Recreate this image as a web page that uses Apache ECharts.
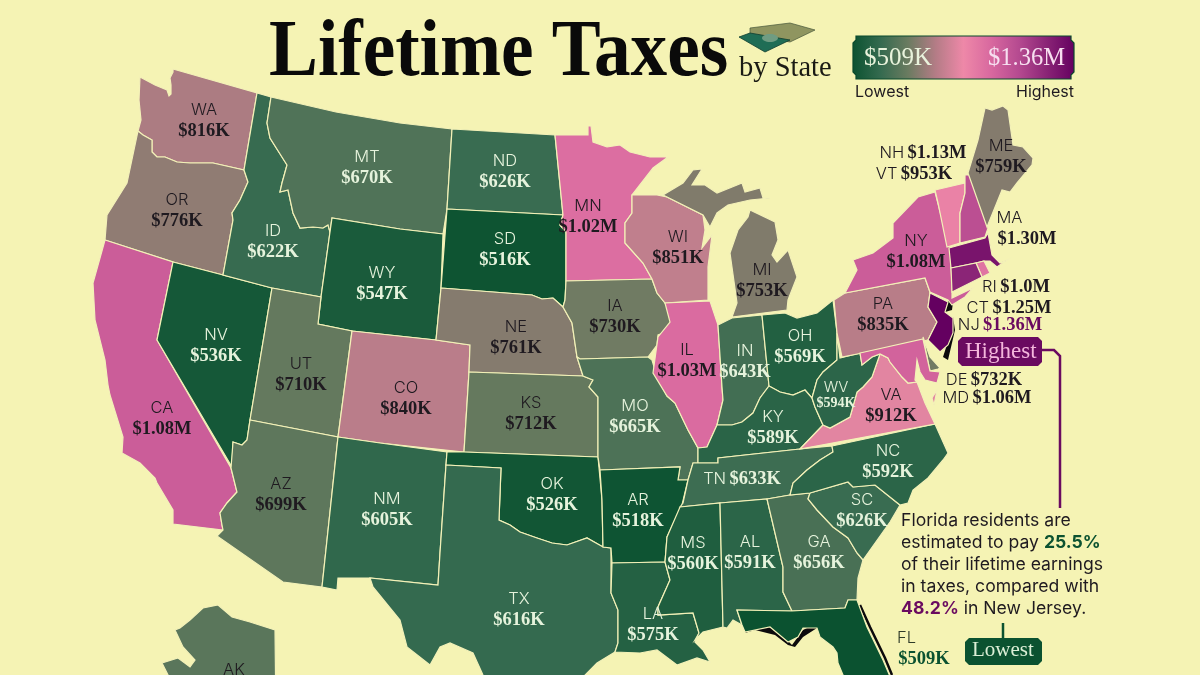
<!DOCTYPE html>
<html lang="en" style="height: 100%">

<head>
  <meta charset="utf-8">
  <script src="https://cdn.jsdelivr.net/npm/echarts@6/dist/echarts.min.js"></script>
</head>

<body style="height: 100%; margin: 0; background: #f5f3b4">
  <div id="container" style="width: 1200px; height: 675px"></div>

  <script type="text/javascript">
    // values, thousands of dollars
    const stateCodes = ['WA', 'OR', 'CA', 'NV', 'ID', 'MT', 'WY', 'UT', 'CO', 'AZ', 'NM', 'ND', 'SD', 'NE', 'KS', 'OK', 'TX', 'MN', 'IA', 'MO', 'AR', 'LA', 'WI', 'IL', 'MI', 'IN', 'OH', 'KY', 'TN', 'MS', 'AL', 'GA', 'FL', 'SC', 'NC', 'VA', 'WV', 'PA', 'NY', 'VT', 'NH', 'ME', 'MA', 'RI', 'CT', 'NJ', 'DE', 'MD', 'AK'];
    const stateValues = [816, 776, 1080, 536, 622, 670, 547, 710, 840, 699, 605, 626, 516, 761, 712, 526, 616, 1020, 730, 665, 518, 575, 851, 1030, 753, 643, 569, 589, 633, 560, 591, 656, 509, 626, 592, 912, 594, 835, 1080, 953, 1130, 759, 1300, 1000, 1250, 1360, 732, 1060, 690];
    const stateTexts = ['$816K', '$776K', '$1.08M', '$536K', '$622K', '$670K', '$547K', '$710K', '$840K', '$699K', '$605K', '$626K', '$516K', '$761K', '$712K', '$526K', '$616K', '$1.02M', '$730K', '$665K', '$518K', '$575K', '$851K', '$1.03M', '$753K', '$643K', '$569K', '$589K', '$633K', '$560K', '$591K', '$656K', '$509K', '$626K', '$592K', '$912K', '$594K', '$835K', '$1.08M', '$953K', '$1.13M', '$759K', '$1.30M', '$1.0M', '$1.25M', '$1.36M', '$732K', '$1.06M', '$690K'];
    const rangeMin = 509;
    const rangeMax = 1360;
    const rangeColors = ['#0b5230', '#346a4f', '#6a7b60', '#b47c86', '#ee88a8', '#d8689f', '#b54a90', '#8a2476', '#640060'];

    // state outlines, traced in map units (same scale as the picture)
    const stateShapes = {
      WA: ['140,77 155,85 167,90 169,96 171,94 171,85 170,78 173,72 173,69 257,93 244,170 213,163 190,163 177,162 165,157 157,157 152,152 152,140 143,135 138,131 141,120 139,100'],
      OR: ['138,131 143,135 152,140 152,152 157,157 165,157 177,162 190,163 213,163 244,170 248,182 240,200 232,213 233,220 223,275 173,262 105,240 107,215 127,183'],
      CA: ['105,240 173,262 157,340 231,468 237,492 227,503 220,513 222,525 223,530 173,524 173,510 157,483 155,478 140,463 122,453 123,437 110,395 108,385 105,360 95,320 93,283 100,258'],
      NV: ['173,262 223,275 272,288 250,420 247,440 242,445 233,442 232,467 157,340'],
      ID: ['223,275 233,220 232,213 240,200 248,182 244,170 257,93 271,97 267,123 270,138 287,165 282,183 280,192 288,190 293,213 300,228 313,227 323,228 328,225 330,232 321,297 272,288'],
      MT: ['271,97 336,112 400,123 452,129 447,209 443,234 400,229 332,218 330,232 328,225 323,228 313,227 300,228 293,213 288,190 280,192 282,183 287,165 270,138 267,123'],
      WY: ['332,218 400,229 443,234 441,288 436,340 352,331 318,324 321,297 330,232'],
      UT: ['272,288 321,297 318,324 352,331 338,437 250,420'],
      CO: ['352,331 436,340 470,345 469,372 464,452 380,443 338,437'],
      AZ: ['250,420 338,437 322,587 283,582 217,536 223,530 222,525 220,513 227,503 237,492 231,468 232,467 233,442 242,445 247,440'],
      NM: ['338,437 380,443 447,452 446,465 440,553 438,585 370,578 338,578 337,590 322,587'],
      ND: ['452,129 555,135 563,215 447,209'],
      SD: ['447,209 563,215 560,225 566,232 566,281 565,300 563,307 553,298 542,299 532,295 441,288'],
      NE: ['441,288 532,295 542,299 553,298 563,307 572,323 577,357 583,376 469,372 470,345 436,340'],
      KS: ['469,372 583,376 593,380 589,387 598,397 598,457 464,452'],
      OK: ['447,452 464,452 598,457 602,500 603,547 587,538 567,545 552,543 537,538 520,532 510,525 499,520 501,468 446,465'],
      TX: ['446,465 501,468 499,520 510,525 520,532 537,538 552,543 567,545 587,538 603,547 611,548 611,593 618,610 618,643 615,652 597,663 585,675 560,720 510,720 483,675 473,653 450,643 440,647 430,665 407,647 400,620 373,587 370,578 438,585 440,553'],
      MN: ['555,135 588,135 588,126 591,126 593,142 607,147 620,145 630,152 650,157 668,157 653,168 632,195 632,213 625,223 625,243 643,263 652,279 566,281 566,232 560,225 563,215'],
      IA: ['566,281 652,279 657,293 665,303 670,313 672,330 658,335 657,345 648,357 580,359 577,357 572,323 563,307 565,300'],
      MO: ['580,359 648,357 652,360 657,377 667,396 675,403 688,430 698,448 698,463 693,463 688,480 678,480 680,467 600,470 598,457 598,397 589,387 593,380 583,376 577,357'],
      AR: ['600,470 680,467 678,480 688,480 682,505 667,537 665,562 612,563 611,548 603,547 602,500'],
      LA: ['612,563 665,562 670,580 658,607 658,615 693,613 699,633 695,642 703,650 710,662 697,658 677,665 657,650 640,653 615,652 618,643 618,610 611,593'],
      WI: ['632,195 657,195 667,197 703,215 705,230 702,248 712,235 708,267 708,300 665,303 657,293 652,279 643,263 625,243 625,223 632,213'],
      IL: ['665,303 710,301 718,325 722,387 723,400 717,425 707,447 698,448 688,430 675,403 667,396 653,373 658,337 670,322'],
      MI: ['663,195 683,183 693,170 702,169 692,185 705,185 717,193 742,183 745,192 760,188 763,198 770,198 750,200 728,205 717,213 710,227 703,215 667,197', '750,210 775,222 778,240 772,255 777,262 788,250 797,277 788,300 787,310 732,317 737,303 730,253 738,230 748,217'],
      IN: ['718,325 732,318 762,315 769,386 760,398 753,413 742,422 732,425 717,425 723,400 722,387'],
      OH: ['762,315 785,313 797,318 817,313 833,300 837,333 837,360 823,372 817,380 812,398 805,390 793,395 780,392 769,386'],
      KY: ['698,463 698,448 707,447 717,425 732,425 742,422 753,413 760,398 769,386 780,392 793,395 805,390 812,398 815,407 823,425 800,449 718,458 718,463'],
      TN: ['693,463 698,463 718,463 718,458 800,449 832,446 833,452 820,460 807,470 793,483 790,495 767,499 720,503 680,507 683,503 688,480'],
      MS: ['680,507 720,503 723,627 703,632 695,640 699,633 693,613 658,615 658,607 670,580 665,562 667,537'],
      AL: ['720,503 767,499 783,567 783,592 792,611 737,610 742,625 733,620 727,628 723,627'],
      GA: ['767,499 790,495 810,493 808,499 817,510 833,527 848,538 857,553 863,560 858,578 857,600 848,600 845,608 792,611 783,592 783,567'],
      FL: ['737,610 792,611 845,608 848,600 857,600 867,627 883,660 900,700 880,720 850,700 843,675 838,663 837,653 833,647 820,637 817,628 803,628 798,637 788,642 770,627 745,632 742,625'],
      SC: ['808,499 810,493 848,482 853,487 875,485 900,505 890,522 863,560 857,553 848,538 833,527 817,510'],
      NC: ['832,446 935,424 948,453 943,460 928,478 913,490 908,503 900,505 875,485 853,487 848,482 810,493 790,495 793,483 807,470 820,460 833,452'],
      VA: ['800,449 823,425 830,428 850,417 857,392 863,387 872,377 880,354 888,358 890,362 902,377 908,383 917,382 925,403 935,424', '937,390 934,405 932,398'],
      WV: ['837,333 840,358 860,353 862,365 872,357 880,354 872,377 863,387 857,392 850,417 830,428 823,425 815,407 812,398 817,380 823,372 837,360'],
      PA: ['834,300 845,293 925,278 930,292 928,307 937,322 928,340 842,357 837,333'],
      NY: ['845,293 857,270 853,260 873,253 893,238 893,223 918,197 935,192 943,223 950,247 952,285 952,298 973,288 965,297 952,305 948,300 930,292 925,278'],
      VT: ['935,190 965,183 965,193 960,213 960,243 947,247 938,203'],
      NH: ['965,175 970,175 988,228 985,237 960,243 960,213 965,193'],
      ME: ['968,173 978,140 985,108 992,110 1003,106 1008,110 1013,145 1023,147 1033,158 1032,165 1017,183 1010,192 1002,190 987,227'],
      MA: ['949,248 985,238 988,233 992,255 1000,263 1007,260 997,267 990,261 984,261 976,263 951,268'],
      RI: ['976,263 984,261 990,273 982,277'],
      CT: ['951,268 976,263 982,277 952,292'],
      NJ: ['930,293 948,302 945,312 953,318 953,333 948,345 940,352 928,340 937,322 928,307'],
      DE: ['923,337 930,357 940,368 938,369 930,371'],
      MD: ['860,353 923,339 930,371 940,372 937,383 925,380 920,372 917,360 915,380 917,382 908,383 902,377 890,362 888,358 880,354 872,357 862,365'],
      AK: ['218,605 232,617 250,622 275,630 276,720 168,720 168,675 162,663 178,658 190,667 195,660 183,647 175,630 180,628 190,620 203,608']
    };

    // where each label sits, in the same map units
    const labelSpots = {
      WA: [204, 121], OR: [177, 211], CA: [162, 419], NV: [216, 346], ID: [273, 242], MT: [367, 168], WY: [382, 284], UT: [301, 375], CO: [406, 399], AZ: [281, 495], NM: [387, 510],
      ND: [505, 172], SD: [505, 250], NE: [516, 338], KS: [531, 414], OK: [552, 495], TX: [519, 610], MN: [588, 217], IA: [615, 317], MO: [635, 417], AR: [638, 511], LA: [653, 625],
      WI: [678, 248], IL: [687, 361], MI: [762, 281], IN: [745, 362], OH: [800, 347], KY: [773, 428], TN: [742, 479], MS: [693, 554], AL: [750, 553], GA: [819, 553], FL: [924, 649],
      SC: [862, 511], NC: [888, 462], VA: [891, 406], WV: [836, 395], PA: [883, 315], NY: [916, 252], VT: [914, 174], NH: [923, 153], ME: [1001, 157], MA: [1027, 229],
      RI: [1016, 287], CT: [1009, 308], NJ: [1000, 325], DE: [984, 380], MD: [987, 398], AK: [234, 681]
    };

    const oneLine = ['TN', 'NH', 'VT', 'RI', 'CT', 'NJ', 'DE', 'MD'];
    const serif = '"Liberation Serif"';
    const sans = 'Inter';

    function parseRing(text) {
      const ring = text.split(' ').map(function (pair) {
        return pair.split(',').map(Number);
      });
      ring.push(ring[0]);
      return ring;
    }

    const usMap = {
      type: 'FeatureCollection',
      features: stateCodes.map(function (code) {
        return {
          type: 'Feature',
          properties: { name: code, cp: labelSpots[code] },
          geometry: {
            type: 'MultiPolygon',
            coordinates: stateShapes[code].map(function (text) {
              return [parseRing(text)];
            })
          }
        };
      })
    };
    echarts.registerMap('us', usMap);

    function stateLabel(code, i) {
      const dark = stateValues[i] >= 680 || code === 'FL';
      let nameKey = dark ? 'nd' : 'nl';
      let valueKey = dark ? 'vd' : 'vl';
      if (code === 'WV') { nameKey = 'wn'; valueKey = 'wv'; }
      if (code === 'NJ') valueKey = 'vp';
      if (code === 'FL') { nameKey = 'fn'; valueKey = 'vg'; }
      if (code === 'MA') nameKey = 'mn';
      const sep = oneLine.indexOf(code) >= 0 ? ' ' : '\n';
      return '{' + nameKey + '|' + code + '}' + sep + '{' + valueKey + '|' + stateTexts[i] + '}';
    }

    const seriesData = stateCodes.map(function (code, i) {
      return {
        name: code,
        value: stateValues[i],
        label: { formatter: stateLabel(code, i) }
      };
    });

    const ink = '#1f1a20';
    const pale = '#e6f3dc';
    const purple = '#6a0a60';
    const green = '#0b5230';

    const legendStops = rangeColors.map(function (color, i) {
      return { offset: i / (rangeColors.length - 1), color: color };
    });

    const nameStyle = { fontFamily: sans, fontWeight: 300, fontSize: 16.5, lineHeight: 20 };
    const valueStyle = { fontFamily: serif, fontWeight: 'bold', fontSize: 18.5, lineHeight: 21 };

    var dom = document.getElementById('container');
    var myChart = echarts.init(dom, null, { renderer: 'canvas' });

    var option = {
      animation: false,
      backgroundColor: '#f5f3b4',
      visualMap: {
        show: false,
        type: 'continuous',
        min: rangeMin,
        max: rangeMax,
        seriesIndex: 0,
        inRange: { color: rangeColors }
      },
      series: [
        {
          type: 'map',
          map: 'us',
          projection: {
            project: function (p) { return p; },
            unproject: function (p) { return p; }
          },
          boundingCoords: [[0, 0], [1200, 675]],
          left: 0,
          top: 0,
          width: 1200,
          height: 675,
          aspectScale: 1,
          roam: false,
          silent: true,
          selectedMode: false,
          showLegendSymbol: false,
          emphasis: { disabled: true },
          itemStyle: { borderColor: '#f3f1b8', borderWidth: 1.2 },
          label: {
            show: true,
            rich: {
              nd: Object.assign({ color: ink }, nameStyle),
              nl: Object.assign({ color: pale }, nameStyle),
              mn: Object.assign({ color: ink, width: 61, align: 'left' }, nameStyle),
              fn: Object.assign({ color: '#2e3a28', width: 54, align: 'left' }, nameStyle),
              vd: Object.assign({ color: ink }, valueStyle),
              vl: Object.assign({ color: pale }, valueStyle),
              vp: Object.assign({ color: purple }, valueStyle),
              vg: Object.assign({ color: green }, valueStyle),
              wn: { fontFamily: sans, fontWeight: 300, fontSize: 15, color: pale, lineHeight: 16 },
              wv: { fontFamily: serif, fontWeight: 'bold', fontSize: 14, color: pale, lineHeight: 16 }
            }
          },
          data: seriesData
        }
      ],
      graphic: {
        elements: [
          {
            type: 'text',
            x: 269,
            y: 94,
            scaleX: 0.916,
            style: { text: 'Lifetime Taxes', font: 'bold 80px ' + serif, fill: '#0a0a0a', verticalAlign: 'bottom' }
          },
          { type: 'text', left: 739, top: 54, style: { text: 'by State', font: '28.5px ' + serif, fill: '#1a1a14' } },

          // money icon
          { type: 'polygon', shape: { points: [[750, 28], [790, 23], [815, 30], [790, 42], [750, 35]] }, style: { fill: '#8f9560', stroke: '#46563a', lineWidth: 0.7 } },
          { type: 'polygon', shape: { points: [[739, 37], [750, 33], [790, 40], [765, 52]] }, style: { fill: '#1f6d55', stroke: '#0f3e30', lineWidth: 0.8 } },
          { type: 'ellipse', shape: { cx: 770, cy: 38, rx: 8, ry: 4 }, style: { fill: '#6f9c82' } },

          // legend bar
          {
            type: 'polygon',
            shape: { points: [[856, 36], [1071, 36], [1071, 40], [1074, 43], [1074, 72], [1071, 75], [1071, 79], [856, 79], [856, 75], [853, 72], [853, 43], [856, 40]] },
            style: {
              fill: new echarts.graphic.LinearGradient(0, 0, 1, 0, legendStops),
              stroke: '#0b4a2c',
              lineWidth: 1.2
            }
          },
          { type: 'text', left: 864, top: 46, style: { text: '$509K', font: '25px ' + serif, fill: '#e9f3dc' } },
          { type: 'text', left: 988, top: 46, style: { text: '$1.36M', font: '24.5px ' + serif, fill: '#f7dff0' } },
          { type: 'text', left: 855, top: 84, style: { text: 'Lowest', font: '16px ' + sans, fill: ink } },
          { type: 'text', left: 1016, top: 84, style: { text: 'Highest', font: '16px ' + sans, fill: ink } },

          // black edge shadows on NJ and FL
          { type: 'polygon', shape: { points: [[948, 301], [953, 302], [952, 310], [945, 312]] }, style: { fill: '#0c0a0c' } },
          { type: 'polygon', shape: { points: [[953, 317], [955, 330], [948, 360], [943, 357], [951, 332]] }, style: { fill: '#0c0a0c' } },
          { type: 'polygon', shape: { points: [[745, 633], [753, 625], [777, 628], [788, 641], [792, 645], [803, 630], [813, 625], [817, 628], [803, 637], [795, 647], [788, 645], [775, 635], [755, 630]] }, style: { fill: '#0c0a0c' } },
          { type: 'polyline', shape: { points: [[860, 605], [870, 627], [885, 658], [892, 675]] }, style: { stroke: '#0c0a0c', lineWidth: 2.5, fill: null } },

          // callouts
          {
            type: 'polyline',
            shape: { points: [[1042, 350], [1054, 350], [1060, 356], [1060, 508]] },
            style: { stroke: purple, lineWidth: 2.5, fill: null }
          },
          {
            type: 'polygon',
            shape: { points: [[962, 337], [1038, 337], [1042, 341], [1042, 362], [1038, 366], [962, 366], [958, 362], [958, 341]] },
            style: { fill: purple }
          },
          { type: 'text', left: 965, top: 340, style: { text: 'Highest', font: '23px ' + serif, fill: '#f4b6dc' } },
          {
            type: 'polyline',
            shape: { points: [[1003, 623], [1003, 638]] },
            style: { stroke: green, lineWidth: 2.5, fill: null }
          },
          {
            type: 'polygon',
            shape: { points: [[969, 638], [1038, 638], [1042, 642], [1042, 661], [1038, 665], [969, 665], [965, 661], [965, 642]] },
            style: { fill: green }
          },
          { type: 'text', left: 972, top: 640, style: { text: 'Lowest', font: '21px ' + serif, fill: '#dcefd6' } },

          // note
          {
            type: 'text',
            left: 901,
            top: 510,
            style: {
              text: 'Florida residents are\nestimated to pay {g|25.5%}\nof their lifetime earnings\nin taxes, compared with\n{p|48.2%} in New Jersey.',
              font: '17.6px ' + sans,
              fill: ink,
              lineHeight: 22,
              rich: {
                g: { font: 'bold 17.6px ' + sans, fill: green },
                p: { font: 'bold 17.6px ' + sans, fill: purple }
              }
            }
          }
        ]
      }
    };

    myChart.setOption(option);
    window.addEventListener('resize', myChart.resize);
  </script>
</body>

</html>
